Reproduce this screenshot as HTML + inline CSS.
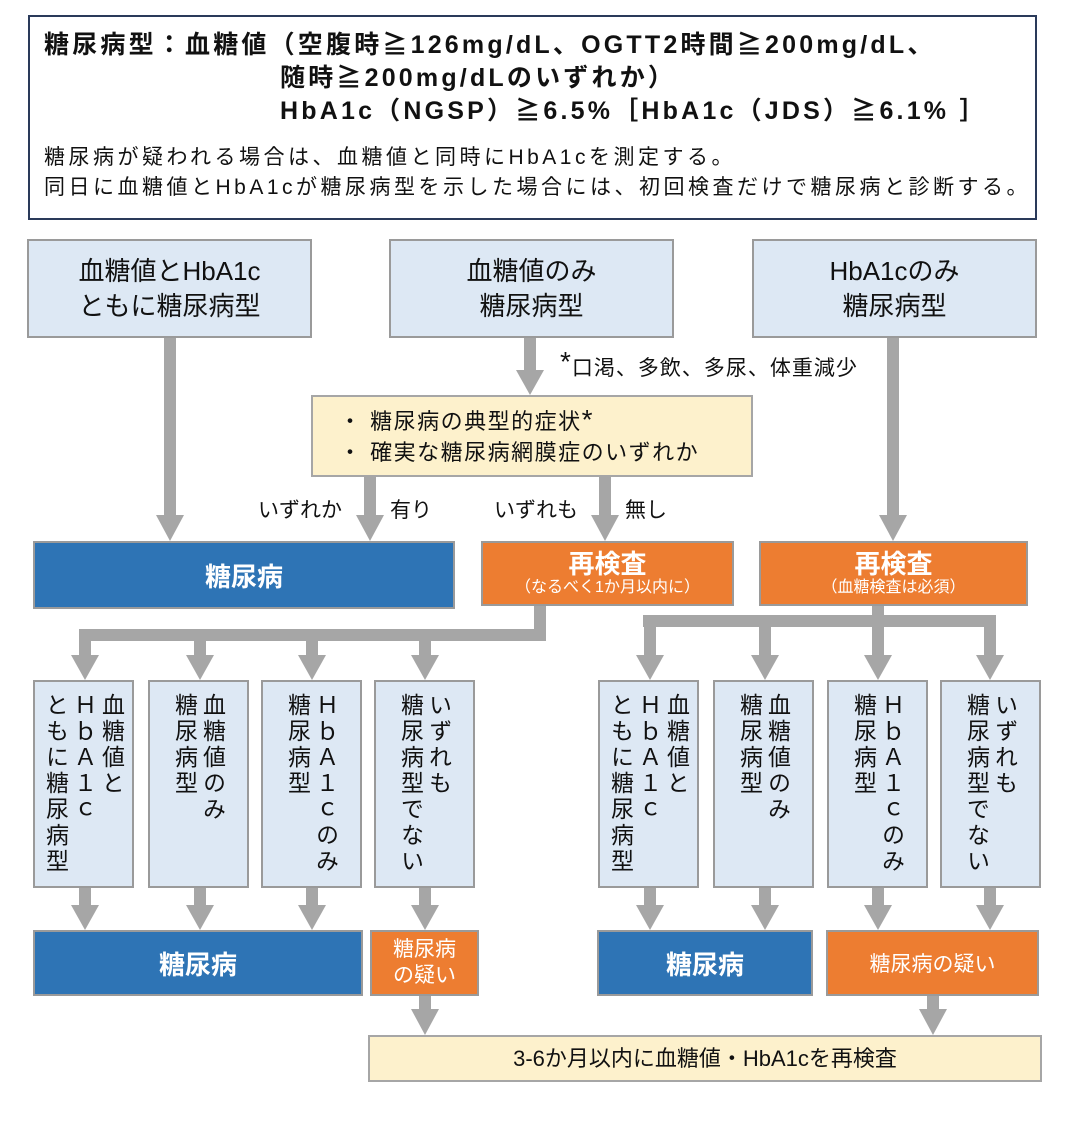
<!DOCTYPE html>
<html><head><meta charset="utf-8"><style>
body{margin:0;width:1076px;height:1135px;background:#fff;position:relative;font-family:"Liberation Sans","Noto Sans CJK JP",sans-serif;color:#111;overflow:hidden}
.a{position:absolute;box-sizing:border-box}
.lb{background:#dde8f4;border:2px solid #9a9a9a;text-align:center;font-size:26px;line-height:35px;display:flex;align-items:center;justify-content:center}
.bl{background:#2e74b5;border:2px solid #9a9a9a;color:#fff;font-weight:bold;font-size:26px;display:flex;align-items:center;justify-content:center}
.or{background:#ed7d31;border:2px solid #9a9a9a;color:#fff;text-align:center;display:flex;flex-direction:column;align-items:center;justify-content:center}
.v{background:#dde8f4;border:2px solid #9a9a9a;display:flex;flex-direction:row-reverse;justify-content:center;padding-top:11px}
.v span{writing-mode:vertical-rl;text-orientation:upright;font-size:23px;line-height:28px;width:28px;letter-spacing:3px}
</style></head><body>
<div class="a" style="left:28px;top:15px;width:1009px;height:205px;border:2px solid #2a3a5a"></div>
<div class="a" style="left:44px;top:29px;font-size:25px;font-weight:bold;line-height:33px;white-space:nowrap;letter-spacing:3.2px">糖尿病型：血糖値（空腹時≧126mg/dL、OGTT2時間≧200mg/dL、<br><span style="padding-left:236px">随時≧200mg/dLのいずれか）</span><br><span style="padding-left:236px">HbA1c（NGSP）≧6.5%［HbA1c（JDS）≧6.1% ］</span></div>
<div class="a" style="left:44px;top:143px;font-size:21px;line-height:30px;white-space:nowrap;letter-spacing:3.5px">糖尿病が疑われる場合は、血糖値と同時にHbA1cを測定する。<br>同日に血糖値とHbA1cが糖尿病型を示した場合には、初回検査だけで糖尿病と診断する。</div>

<svg class="a" style="left:0;top:0" width="1076" height="1135">
<g fill="#a6a6a6">
<rect x="164" y="337" width="12" height="180"/><polygon points="156,515 184,515 170,541"/>
<rect x="524" y="337" width="12" height="35"/><polygon points="516,370 544,370 530,395"/>
<rect x="364" y="476" width="12" height="42"/><polygon points="356,515 384,515 370,541"/>
<rect x="599" y="476" width="12" height="42"/><polygon points="591,515 619,515 605,541"/>
<rect x="887" y="337" width="12" height="180"/><polygon points="879,515 907,515 893,541"/>
<rect x="534" y="605" width="12" height="36"/><rect x="79" y="629" width="467" height="12"/>
<rect x="872" y="605" width="12" height="22"/><rect x="643" y="615" width="353" height="12"/>
<rect x="79" y="635" width="12" height="22"/><polygon points="71,655 99,655 85,680"/>
<rect x="194" y="635" width="12" height="22"/><polygon points="186,655 214,655 200,680"/>
<rect x="306" y="635" width="12" height="22"/><polygon points="298,655 326,655 312,680"/>
<rect x="419" y="635" width="12" height="22"/><polygon points="411,655 439,655 425,680"/>
<rect x="644" y="621" width="12" height="36"/><polygon points="636,655 664,655 650,680"/>
<rect x="759" y="621" width="12" height="36"/><polygon points="751,655 779,655 765,680"/>
<rect x="872" y="621" width="12" height="36"/><polygon points="864,655 892,655 878,680"/>
<rect x="984" y="621" width="12" height="36"/><polygon points="976,655 1004,655 990,680"/>
<rect x="79" y="887" width="12" height="20"/><polygon points="71,905 99,905 85,930"/>
<rect x="194" y="887" width="12" height="20"/><polygon points="186,905 214,905 200,930"/>
<rect x="306" y="887" width="12" height="20"/><polygon points="298,905 326,905 312,930"/>
<rect x="419" y="887" width="12" height="20"/><polygon points="411,905 439,905 425,930"/>
<rect x="644" y="887" width="12" height="20"/><polygon points="636,905 664,905 650,930"/>
<rect x="759" y="887" width="12" height="20"/><polygon points="751,905 779,905 765,930"/>
<rect x="872" y="887" width="12" height="20"/><polygon points="864,905 892,905 878,930"/>
<rect x="984" y="887" width="12" height="20"/><polygon points="976,905 1004,905 990,930"/>
<rect x="419" y="995" width="12" height="16"/><polygon points="411,1009 439,1009 425,1035"/>
<rect x="927" y="995" width="12" height="16"/><polygon points="919,1009 947,1009 933,1035"/>
</g>
</svg>

<div class="a lb" style="left:27px;top:239px;width:285px;height:99px">血糖値とHbA1c<br>ともに糖尿病型</div>
<div class="a lb" style="left:389px;top:239px;width:285px;height:99px">血糖値のみ<br>糖尿病型</div>
<div class="a lb" style="left:752px;top:239px;width:285px;height:99px">HbA1cのみ<br>糖尿病型</div>
<div class="a" style="left:560px;top:352px;font-size:21px;white-space:nowrap;letter-spacing:1px"><span style="font-size:28px;vertical-align:top;line-height:20px">*</span>口渇、多飲、多尿、体重減少</div>
<div class="a" style="left:311px;top:395px;width:442px;height:82px;background:#fdf1cc;border:2px solid #a6a6a6;font-size:22px;line-height:31px;padding:9px 0 0 26px;white-space:nowrap;letter-spacing:1.5px">・ 糖尿病の典型的症状<span style="font-size:28px;line-height:10px">*</span><br>・ 確実な糖尿病網膜症のいずれか</div>
<div class="a" style="left:258px;top:494px;font-size:21px">いずれか</div>
<div class="a" style="left:390px;top:494px;font-size:21px">有り</div>
<div class="a" style="left:494px;top:494px;font-size:21px">いずれも</div>
<div class="a" style="left:625px;top:494px;font-size:21px">無し</div>
<div class="a bl" style="left:33px;top:541px;width:422px;height:68px">糖尿病</div>
<div class="a or" style="left:481px;top:541px;width:253px;height:65px"><div style="font-size:26px;font-weight:bold;line-height:28px">再検査</div><div style="font-size:16px;line-height:20px">（なるべく1か月以内に）</div></div>
<div class="a or" style="left:759px;top:541px;width:269px;height:65px"><div style="font-size:26px;font-weight:bold;line-height:28px">再検査</div><div style="font-size:16px;line-height:20px">（血糖検査は必須）</div></div>

<div class="a v" style="left:33px;top:680px;width:101px;height:208px"><span>血糖値と</span><span>ＨｂＡ１ｃ</span><span>ともに糖尿病型</span></div>
<div class="a v" style="left:148px;top:680px;width:101px;height:208px"><span>血糖値のみ</span><span>糖尿病型</span></div>
<div class="a v" style="left:261px;top:680px;width:101px;height:208px"><span>ＨｂＡ１ｃのみ</span><span>糖尿病型</span></div>
<div class="a v" style="left:374px;top:680px;width:101px;height:208px"><span>いずれも</span><span>糖尿病型でない</span></div>
<div class="a v" style="left:598px;top:680px;width:101px;height:208px"><span>血糖値と</span><span>ＨｂＡ１ｃ</span><span>ともに糖尿病型</span></div>
<div class="a v" style="left:713px;top:680px;width:101px;height:208px"><span>血糖値のみ</span><span>糖尿病型</span></div>
<div class="a v" style="left:827px;top:680px;width:101px;height:208px"><span>ＨｂＡ１ｃのみ</span><span>糖尿病型</span></div>
<div class="a v" style="left:940px;top:680px;width:101px;height:208px"><span>いずれも</span><span>糖尿病型でない</span></div>

<div class="a bl" style="left:33px;top:930px;width:330px;height:66px">糖尿病</div>
<div class="a or" style="left:370px;top:930px;width:109px;height:66px;font-size:21px;line-height:26px">糖尿病<br>の疑い</div>
<div class="a bl" style="left:597px;top:930px;width:216px;height:66px">糖尿病</div>
<div class="a or" style="left:826px;top:930px;width:213px;height:66px;font-size:21px">糖尿病の疑い</div>
<div class="a" style="left:368px;top:1035px;width:674px;height:47px;background:#fdf1cc;border:2px solid #a6a6a6;font-size:22px;text-align:center;line-height:43px">3-6か月以内に血糖値・HbA1cを再検査</div>
</body></html>
